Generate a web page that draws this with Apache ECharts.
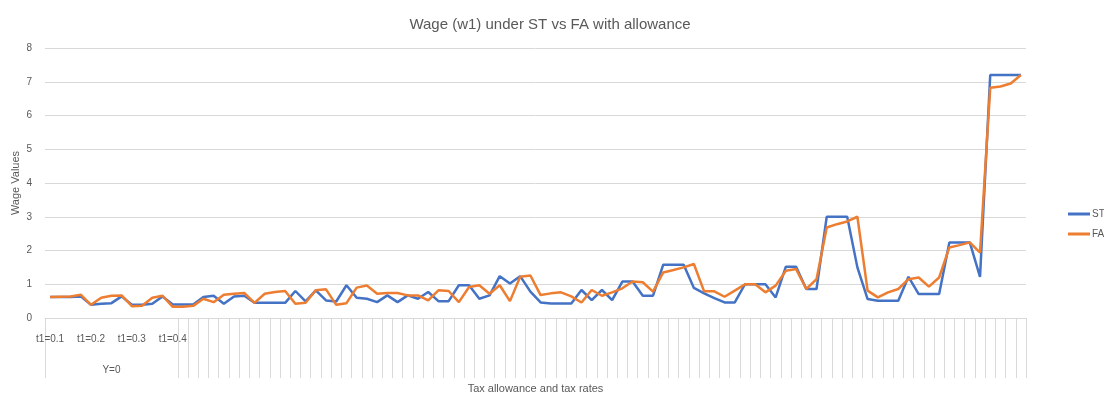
<!DOCTYPE html>
<html>
<head>
<meta charset="utf-8">
<script src="https://cdn.jsdelivr.net/npm/echarts@6/dist/echarts.min.js"></script>
<style>
  html, body { margin: 0; padding: 0; background: #fff; }
  #chart { width: 1104px; height: 395px; }
</style>
</head>
<body>
<div id="chart"></div>
<script>
// wage values, one per category (96 categories)
const stWage = [
  0.62, 0.62, 0.62, 0.64, 0.39, 0.42, 0.44, 0.64, 0.39, 0.39, 0.42, 0.64,
  0.40, 0.40, 0.40, 0.62, 0.66, 0.42, 0.64, 0.66, 0.45, 0.45, 0.45, 0.45,
  0.80, 0.49, 0.82, 0.52, 0.49, 0.97, 0.60, 0.57, 0.47, 0.67, 0.47, 0.67,
  0.57, 0.77, 0.50, 0.50, 0.97, 0.97, 0.57, 0.67, 1.24, 1.02, 1.24, 0.78,
  0.46, 0.43, 0.43, 0.43, 0.83, 0.53, 0.83, 0.53, 1.08, 1.08, 0.66, 0.66,
  1.58, 1.58, 1.58, 0.89, 0.73, 0.59, 0.46, 0.46, 1.00, 1.00, 1.00, 0.61,
  1.52, 1.52, 0.86, 0.86, 3.00, 3.00, 3.00, 1.50, 0.56, 0.51, 0.51, 0.51,
  1.22, 0.71, 0.71, 0.71, 2.24, 2.24, 2.24, 1.22, 7.20, 7.20, 7.20, 7.20
];
const faWage = [
  0.62, 0.63, 0.64, 0.69, 0.39, 0.60, 0.66, 0.67, 0.35, 0.36, 0.60, 0.66,
  0.33, 0.33, 0.36, 0.57, 0.47, 0.69, 0.72, 0.74, 0.45, 0.72, 0.77, 0.80,
  0.42, 0.45, 0.82, 0.85, 0.39, 0.44, 0.90, 0.96, 0.72, 0.74, 0.74, 0.67,
  0.67, 0.52, 0.82, 0.80, 0.47, 0.92, 0.97, 0.72, 0.97, 0.50, 1.22, 1.26,
  0.68, 0.73, 0.76, 0.64, 0.46, 0.83, 0.66, 0.76, 0.88, 1.08, 1.06, 0.78,
  1.35, 1.42, 1.50, 1.60, 0.79, 0.79, 0.63, 0.81, 1.00, 1.00, 0.76, 0.96,
  1.40, 1.45, 0.86, 1.15, 2.68, 2.78, 2.86, 3.00, 0.81, 0.61, 0.76, 0.86,
  1.15, 1.20, 0.93, 1.20, 2.09, 2.16, 2.24, 1.94, 6.82, 6.86, 6.95, 7.20
];

// visible category labels: inner level (t1) and outer level (Y)
const t1Labels = { 0: "t1=0.1", 4: "t1=0.2", 8: "t1=0.3", 12: "t1=0.4" };
const yLabels = { 6: "Y=0" };
const firstGroupSize = 13;

const yTicks = [0, 1, 2, 3, 4, 5, 6, 7, 8];

const innerCats = stWage.map((_, i) => t1Labels[i] || "");
const outerCats = stWage.map((_, i) => yLabels[i] || "");

const grey = "#595959";
const lineGrey = "#d9d9d9";
const font = "Liberation Sans";

const chart = echarts.init(document.getElementById("chart"));

chart.setOption({
  animation: false,
  textStyle: { fontFamily: font },
  title: {
    text: "Wage (w1) under ST vs FA with allowance",
    left: 545,
    top: 12,
    textAlign: "center",
    textStyle: { fontFamily: font, fontSize: 15, fontWeight: "normal", color: grey },
  },
  legend: {
    orient: "vertical",
    left: 1063,
    top: 204,
    itemGap: 10,
    itemWidth: 22,
    itemHeight: 3,
    icon: "rect",
    textStyle: { fontFamily: font, fontSize: 10, color: grey, padding: [0, 0, 0, -3] },
    data: ["ST", "FA"],
  },
  grid: { left: 45, right: 78, top: 48, bottom: 77, containLabel: false, outerBoundsMode: "none" },
  xAxis: [
    {
      type: "category",
      data: innerCats,
      boundaryGap: true,
      name: "Tax allowance and tax rates",
      nameLocation: "middle",
      nameGap: 65,
      nameTextStyle: { fontFamily: font, fontSize: 11, color: grey },
      axisLine: { lineStyle: { color: lineGrey, width: 1 } },
      axisTick: {
        show: true,
        length: 60,
        interval: (i) => i === 0 || i >= firstGroupSize,
        lineStyle: { color: lineGrey, width: 1 },
      },
      axisLabel: { interval: 0, margin: 16, fontSize: 10, color: grey, fontFamily: font },
      splitLine: { show: false },
    },
    {
      type: "category",
      data: outerCats,
      boundaryGap: true,
      position: "bottom",
      axisLine: { show: false },
      axisTick: { show: false },
      axisLabel: { interval: 0, margin: 47, fontSize: 10, color: grey, fontFamily: font },
      splitLine: { show: false },
    },
  ],
  yAxis: {
    type: "value",
    min: yTicks[0],
    max: yTicks[yTicks.length - 1],
    interval: 1,
    name: "Wage Values",
    nameLocation: "middle",
    nameGap: 24,
    nameMoveOverlap: false,
    nameRotate: 90,
    nameTextStyle: { fontFamily: font, fontSize: 11, color: grey },
    axisLine: { show: false },
    axisTick: { show: false },
    axisLabel: { margin: 13, fontSize: 10, color: grey, fontFamily: font },
    splitLine: { lineStyle: { color: lineGrey, width: 1 } },
  },
  series: [
    {
      name: "ST",
      type: "line",
      data: stWage,
      xAxisIndex: 0,
      showSymbol: false,
      symbol: "none",
      lineStyle: { color: "#4472c4", width: 2.5 },
      itemStyle: { color: "#4472c4" },
    },
    {
      name: "FA",
      type: "line",
      data: faWage,
      xAxisIndex: 0,
      showSymbol: false,
      symbol: "none",
      lineStyle: { color: "#ed7d31", width: 2.5 },
      itemStyle: { color: "#ed7d31" },
    },
  ],
});
</script>
</body>
</html>
